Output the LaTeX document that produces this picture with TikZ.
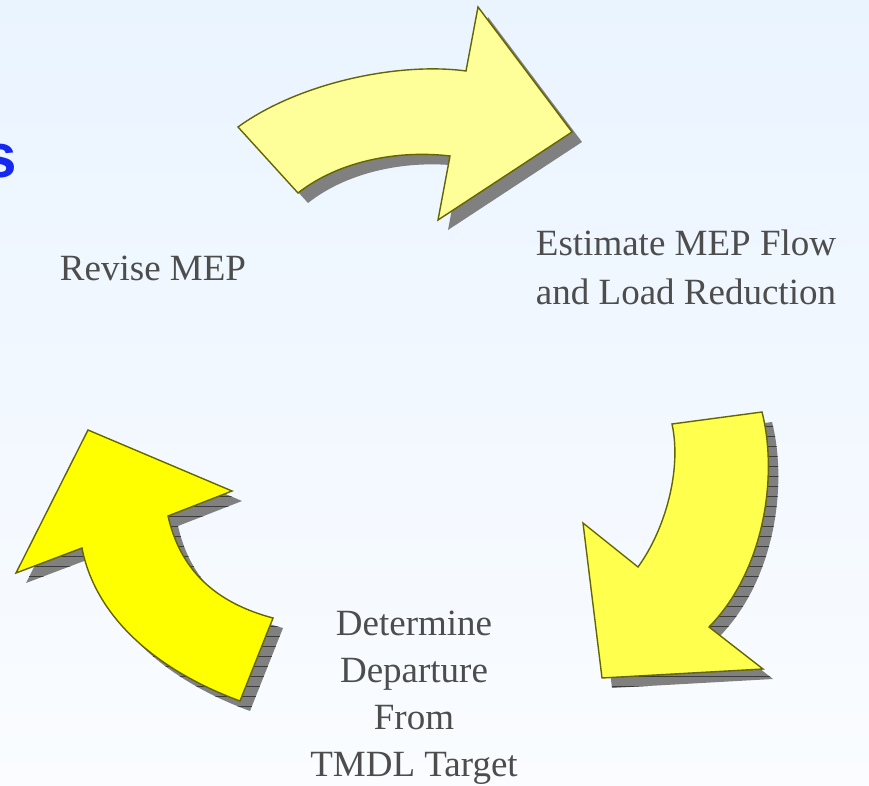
\documentclass[tikz,border=0pt]{standalone}
\usepackage{fontspec}
\setmainfont{Liberation Serif}
\newfontfamily\titlefont{Liberation Sans}
\usetikzlibrary{patterns.meta}
\definecolor{bgtop}{RGB}{234,244,255}
\definecolor{bgbot}{RGB}{250,252,255}
\definecolor{edge}{RGB}{102,102,0}
\definecolor{shadowgray}{RGB}{128,128,128}
\definecolor{hatch}{RGB}{60,60,60}
\definecolor{fillA}{RGB}{255,255,153}
\definecolor{fillB}{RGB}{255,255,77}
\definecolor{fillC}{RGB}{255,255,0}
\definecolor{labelgray}{RGB}{77,77,77}
\definecolor{titleblue}{RGB}{20,40,240}
\begin{document}
\begin{tikzpicture}[x=1pt,y=-1pt,
  arrowbody/.style={draw=edge,line width=1.4pt,line join=miter},
  shadowbody/.style={fill=shadowgray},
  shadowhatch/.style={pattern={Lines[angle=0,distance=10pt,line width=0.7pt]},pattern color=hatch},
  label/.style={text=labelgray,inner sep=0pt,align=center},
  toparrow/.style={insert path={(238,127) .. controls (300,82) and (400,62) .. (466,71) -- (478,7) -- (572,132) -- (438,220) -- (450,156) .. controls (400,150) and (340,160) .. (298,193) -- cycle}},
  rightarrow/.style={insert path={(672,424) -- (762,412) .. controls (778,475) and (765,570) .. (709,627) -- (763,669) -- (602,678) -- (583,523) -- (638,567) .. controls (665,530) and (682,470) .. (672,424) -- cycle}},
  leftarrow/.style={insert path={(88,430) -- (232,491) -- (168,516) .. controls (178,560) and (205,600) .. (273,618) -- (240,701) .. controls (148,667) and (94,611) .. (82,548) -- (16,573) -- cycle}}
]
\useasboundingbox (0,0) rectangle (869,786);
\shade[top color=bgtop,bottom color=bgbot] (0,0) rectangle (869,786);

% partially visible title letter
\node[font=\titlefont\bfseries\fontsize{62}{70}\selectfont,text=titleblue,anchor=base east,inner sep=0pt] (title) at (17,178) {s};

% shadows
\fill[shadowbody,shift={(10,10)},toparrow];
\fill[shadowbody,shift={(10,10)},rightarrow];
\path[shadowhatch,shift={(10,10)},rightarrow];
\fill[shadowbody,shift={(10,10)},leftarrow];
\path[shadowhatch,shift={(10,10)},leftarrow];

% arrows
\path[arrowbody,fill=fillA,toparrow];
\path[arrowbody,fill=fillB,rightarrow];
\path[arrowbody,fill=fillC,leftarrow];

% labels
\node[label,font=\fontsize{37}{49}\selectfont,anchor=base] (revise) at (153,280) {Revise MEP};
\node[label,font=\fontsize{37}{49}\selectfont,anchor=north] (estimate) at (686,230) {Estimate MEP Flow\\and Load Reduction};
\node[label,font=\fontsize{37}{47}\selectfont,anchor=north] (determine) at (414,611) {Determine\\Departure\\From\\TMDL Target};
\end{tikzpicture}
\end{document}
